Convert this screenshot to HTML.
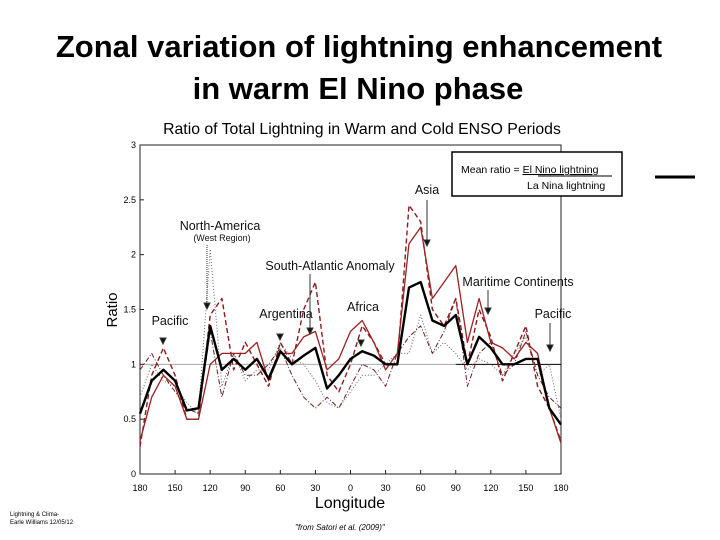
<!DOCTYPE html>
<html><head><meta charset="utf-8"><style>
body{margin:0;background:#fff;width:720px;height:540px;overflow:hidden}
svg{display:block}
text{font-family:"Liberation Sans",Arial,sans-serif}
</style></head><body>
<svg id="s" width="720" height="540" viewBox="0 0 720 540">
<text x="359" y="57" text-anchor="middle" font-size="31" font-weight="bold">Zonal variation of lightning enhancement</text>
<text x="358" y="99" text-anchor="middle" font-size="31" font-weight="bold">in warm El Nino phase</text>
<text x="362" y="134" text-anchor="middle" font-size="15.8">Ratio of Total Lightning in Warm and Cold ENSO Periods</text>
<text transform="translate(117,310) rotate(-90)" text-anchor="middle" font-size="15">Ratio</text>
<text x="350" y="508" text-anchor="middle" font-size="16">Longitude</text>
<g id="plot"></g>
<g font-size="12.5" fill="#111">
<text x="220" y="230" text-anchor="middle">North-America</text>
<text x="222" y="241" text-anchor="middle" font-size="9">(West Region)</text>
<text x="330" y="270" text-anchor="middle">South-Atlantic Anomaly</text>
<text x="427" y="194" text-anchor="middle">Asia</text>
<text x="518" y="286" text-anchor="middle">Maritime Continents</text>
<text x="553" y="318" text-anchor="middle">Pacific</text>
<text x="363" y="311" text-anchor="middle">Africa</text>
<text x="286" y="318" text-anchor="middle">Argentina</text>
<text x="170" y="325" text-anchor="middle">Pacific</text>
</g>
<g stroke="#333" stroke-width="1" fill="#111">
<line x1="207" y1="245" x2="207" y2="305" stroke-dasharray="1,1"/><path d="M204,303 L210,303 L207,309Z"/>
<line x1="427" y1="200" x2="427" y2="242"/><path d="M424,240 L430,240 L427,246Z"/>
<line x1="488" y1="290" x2="488" y2="310"/><path d="M485,308 L491,308 L488,314Z"/>
<line x1="550" y1="323" x2="550" y2="347"/><path d="M547,345 L553,345 L550,351Z"/>
<line x1="310" y1="274" x2="310" y2="330"/><path d="M307,328 L313,328 L310,334Z"/>
<path d="M358,340 L364,340 L361,346Z"/>
<path d="M277,334 L283,334 L280,340Z"/>
<path d="M160,338 L166,338 L163,344Z"/>
</g>
<rect x="452" y="152" width="170" height="44" fill="#fff" stroke="#000" stroke-width="1.5"/>
<text x="461" y="173" font-size="10.5">Mean ratio = <tspan text-decoration="underline">El Nino lightning</tspan></text>
<line x1="538" y1="176" x2="612" y2="176" stroke="#000" stroke-width="1"/>
<text x="527" y="189" font-size="10.5">La Nina lightning</text>
<line x1="655" y1="177" x2="695" y2="177" stroke="#000" stroke-width="3"/>
<text x="10" y="516" font-size="6">Lightning &amp; Clima-</text>
<text x="10" y="524" font-size="6">Earle Williams 12/05/12</text>
<text x="295" y="530" font-size="8" font-style="italic">"from Satori et al. (2009)"</text>
</svg>
<script>
const lons=[-180,-170,-160,-150,-140,-130,-120,-110,-100,-90,-80,-70,-60,-50,-40,-30,-20,-10,0,10,20,30,40,50,60,70,80,90,100,110,120,130,140,150,160,170,180];
const meanRatio=[0.55,0.85,0.95,0.85,0.58,0.6,1.35,0.95,1.05,0.95,1.05,0.87,1.12,1.0,1.08,1.15,0.78,0.9,1.05,1.12,1.08,1.0,1.0,1.7,1.75,1.4,1.35,1.45,1.0,1.25,1.15,1.0,1.0,1.05,1.05,0.6,0.45];
const redSolid=[0.3,0.7,0.9,0.8,0.5,0.5,1.0,1.1,1.1,1.1,1.2,0.85,1.1,1.1,1.25,1.3,0.95,1.05,1.3,1.4,1.2,0.95,1.1,2.1,2.25,1.6,1.75,1.9,1.2,1.6,1.2,1.15,1.05,1.2,1.1,0.6,0.28];
const redDashed=[0.25,0.9,1.15,0.9,0.5,0.5,1.45,1.6,0.95,1.2,1.0,0.8,1.2,1.0,1.5,1.75,0.9,0.75,1.0,1.35,1.2,1.0,1.0,2.45,2.3,1.5,1.35,1.6,1.0,1.5,1.25,0.85,1.1,1.35,0.8,0.6,0.3];
const dashDot=[0.95,1.1,0.9,0.75,0.6,0.55,1.3,0.7,1.1,0.9,0.9,1.0,1.15,0.9,0.7,0.6,0.7,0.6,0.8,1.0,0.95,0.8,1.1,1.25,1.35,1.1,1.3,1.6,0.8,1.1,1.2,0.9,1.0,1.3,0.9,0.7,0.6];
const dotted=[0.7,1.0,0.85,0.8,0.65,0.55,2.05,0.8,1.1,0.85,0.95,0.95,1.2,1.05,1.0,0.85,0.65,0.6,0.75,0.9,0.9,1.0,1.1,1.1,1.45,1.1,1.2,1.1,0.95,1.05,1.0,0.9,1.1,1.25,0.9,1.0,0.5];
const yTicks=[0,0.5,1,1.5,2,2.5,3];
const yTickLabels=["0","0.5","1","1.5","2","2.5","3"];
const xTicks=[-180,-150,-120,-90,-60,-30,0,30,60,90,120,150,180];
const xTickLabels=["180","150","120","90","60","30","0","30","60","90","120","150","180"];
const X0=140,X1=561,Y0=474,Y1=145;
const xs=l=>X0+(l+180)/360*(X1-X0);
const ys=v=>Y0-v/3*(Y0-Y1);
const NS="http://www.w3.org/2000/svg";
const g=document.getElementById('plot');
function mk(t,a){const e=document.createElementNS(NS,t);for(const k in a)e.setAttribute(k,a[k]);g.appendChild(e);return e;}
const frame=mk('rect',{x:X0,y:Y1,width:X1-X0,height:Y0-Y1,fill:'none',stroke:'#222','stroke-width':1});


const ref1=mk('line',{x1:X0,x2:xs(90),y1:ys(1),y2:ys(1),stroke:'#aaa','stroke-width':1});


const ref2=mk('line',{x1:xs(90),x2:X1,y1:ys(1),y2:ys(1),stroke:'#000','stroke-width':1});


yTicks.forEach((v,i)=>{
 mk('line',{x1:X0,x2:X0+4,y1:ys(v),y2:ys(v),stroke:'#222'});
 const t=mk('text',{x:X0-4,y:ys(v)+3,'text-anchor':'end','font-size':9});
 t.textContent=yTickLabels[i];
 
 
});
xTicks.forEach((v,i)=>{
 mk('line',{x1:xs(v),x2:xs(v),y1:Y0,y2:Y0-4,stroke:'#222'});
 const t=mk('text',{x:xs(v),y:Y0+17,'text-anchor':'middle','font-size':9});
 t.textContent=xTickLabels[i];
 
 
});
function series(vals,stroke,w,dash,name){
 const d=vals.map((v,i)=>(i?'L':'M')+xs(lons[i]).toFixed(1)+','+ys(v).toFixed(1)).join(' ');
 const p=mk('path',{d:d,fill:'none',stroke:stroke,'stroke-width':w,'stroke-dasharray':dash,'stroke-linejoin':'round'});
 
 
}
series(dotted,'#666',1,'1,2','series-dotted');
series(dashDot,'#6b2020',1,'5,2,1,2','series-dash-dot');
series(redDashed,'#8b1a1a',1.4,'5,3','series-red-dashed');
series(redSolid,'#9b2222',1.3,'','series-red-solid');
series(meanRatio,'#000',2.4,'','series-mean-ratio');
</script>
</body></html>
